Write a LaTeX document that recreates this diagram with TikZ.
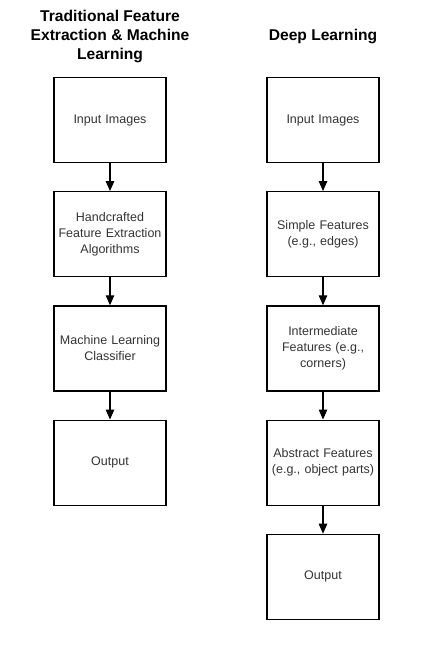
\documentclass[tikz,border=0pt]{standalone}
\usepackage{fontspec}
\setmainfont{Liberation Sans}
\usetikzlibrary{positioning, arrows.meta}
\definecolor{textgray}{HTML}{333333}
\tikzstyle{block} = [draw, line width=1.2pt, minimum width=112pt, minimum height=85pt, text width=108pt, align=center, text=textgray, font=\fontsize{12.5}{16}\selectfont, inner sep=2pt]
\tikzstyle{heading} = [align=center, font=\fontsize{15.6}{19}\selectfont\bfseries]
\tikzstyle{arrow} = [line width=1.2pt,-{Triangle[length=10pt,width=8.5pt]}]

\begin{document}
\begin{tikzpicture}[node distance=28pt]
	\useasboundingbox (0,0) rectangle (424pt,-648pt);
	% left column
	\node[heading] (trad) at (110pt,-36pt) {Traditional Feature\\Extraction \& Machine\\Learning};
	\node[block] (tin) at (110pt,-120pt) {Input Images};
	\node[block, below=of tin] (hand) {Handcrafted\\Feature Extraction\\Algorithms};
	\node[block, below=of hand] (clf) {Machine Learning\\Classifier};
	\node[block, below=of clf] (tout) {Output};
	% right column
	\node[heading] (deep) at (323pt,-36pt) {Deep Learning};
	\node[block] (din) at (323pt,-120pt) {Input Images};
	\node[block, below=of din] (simple) {Simple Features\\(e.g., edges)};
	\node[block, below=of simple] (inter) {Intermediate\\Features (e.g.,\\corners)};
	\node[block, below=of inter] (abs) {Abstract Features\\(e.g., object parts)};
	\node[block, below=of abs] (dout) {Output};
	% arrows
	\draw[arrow] (tin) -- (hand);
	\draw[arrow] (hand) -- (clf);
	\draw[arrow] (clf) -- (tout);
	\draw[arrow] (din) -- (simple);
	\draw[arrow] (simple) -- (inter);
	\draw[arrow] (inter) -- (abs);
	\draw[arrow] (abs) -- (dout);
\end{tikzpicture}
\end{document}
